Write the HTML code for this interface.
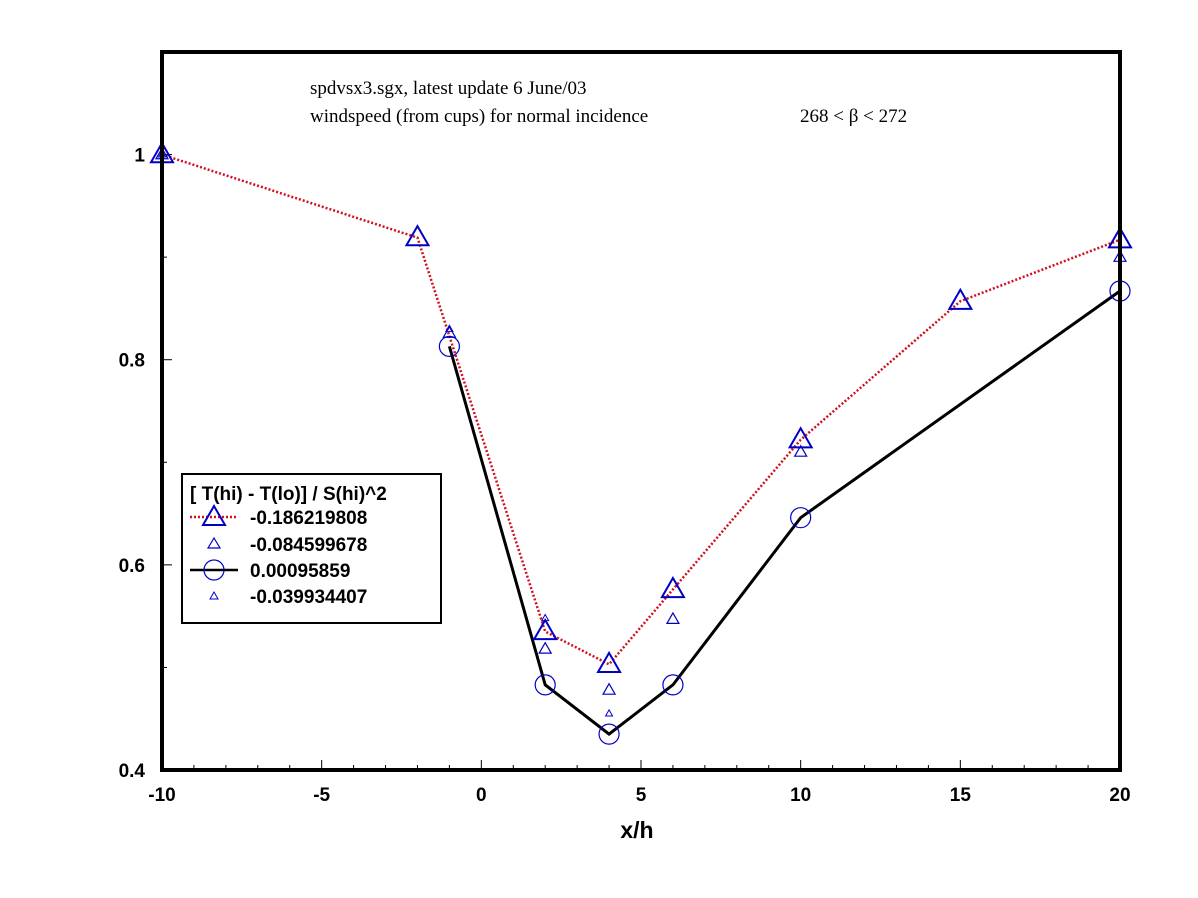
<!DOCTYPE html>
<html><head><meta charset="utf-8"><style>
body{margin:0;background:#fff}
</style></head><body>
<svg id="chart" width="1198" height="898" viewBox="0 0 1198 898" xmlns="http://www.w3.org/2000/svg" style="position:absolute;left:0;top:0">
<g id="plot" font-family="Liberation Sans,Arial,sans-serif"></g>
</svg>
<script>
const xTicks=[-10,-5,0,5,10,15,20];
const yTicks=[0.4,0.6,0.8,1];
const yTickLabels=["0.4","0.6","0.8","1"];
const s1x=[-10,-2,2,4,6,10,15,20];
const s1y=[1.0,0.919,0.535,0.503,0.576,0.722,0.857,0.917];
const s2x=[-10,-1,2,4,6,10,20];
const s2y=[1.0,0.826,0.518,0.478,0.547,0.71,0.9];
const s3x=[-1,2,4,6,10,20];
const s3y=[0.813,0.483,0.435,0.483,0.646,0.867];
const s4x=[-10,-1,2,4];
const s4y=[1.0,0.83,0.548,0.455];
const L=162,R=1120,T=52,B=770;
const X=v=>L+(v+10)*(R-L)/30;
const Y=v=>B-(v-0.4)*(B-T)/0.7;
const NS="http://www.w3.org/2000/svg";
const g=document.getElementById('plot');
function el(t,a,parent){const e=document.createElementNS(NS,t);for(const k in a)e.setAttribute(k,a[k]);(parent||g).appendChild(e);return e;}
function tri(cx,cy,s,w,name){const h=s*0.87;const e=el('polygon',{points:`${cx},${cy-h*0.6} ${cx-s/2},${cy+h*0.4} ${cx+s/2},${cy+h*0.4}`,fill:'none',stroke:'#0000c8','stroke-width':w});

return e;}
for(let v=-10;v<=20;v++){const big=v%5===0;const t=el('line',{x1:X(v),x2:X(v),y1:B,y2:B-(big?10:5),stroke:'#000','stroke-width':1});

}
xTicks.forEach(v=>{const t=el('text',{x:X(v),y:801,'text-anchor':'middle','font-size':19,'font-weight':'bold'});t.textContent=v;

});
for(let i=0;i<=7;i++){const v=0.4+i*0.1;const big=i%2===0;const t=el('line',{x1:L,x2:L+(big?10:5),y1:Y(v),y2:Y(v),stroke:'#000','stroke-width':1});

}
yTicks.forEach((v,i)=>{const t=el('text',{x:145,y:Y(v)+7,'text-anchor':'end','font-size':19,'font-weight':'bold'});t.textContent=yTickLabels[i];

});
const l1=el('polyline',{points:s1x.map((x,i)=>X(x)+','+Y(s1y[i])).join(' '),fill:'none',stroke:'#d01020','stroke-width':2.5,'stroke-dasharray':'2 2'});


const l3=el('polyline',{points:s3x.map((x,i)=>X(x)+','+Y(s3y[i])).join(' '),fill:'none',stroke:'#000','stroke-width':3});


s1x.forEach((x,i)=>tri(X(x),Y(s1y[i]),22,2,'series-1-marker'));
s2x.forEach((x,i)=>tri(X(x),Y(s2y[i]),12,1.2,'series-2-marker'));
s3x.forEach((x,i)=>{const c=el('circle',{cx:X(x),cy:Y(s3y[i]),r:10,fill:'none',stroke:'#0000c8','stroke-width':1.2});

});
s4x.forEach((x,i)=>tri(X(x),Y(s4y[i]),7,1,'series-4-marker'));
const f=el('rect',{x:L,y:T,width:R-L,height:B-T,fill:'none',stroke:'#000','stroke-width':4});


</script>
<svg style="position:absolute;left:0;top:0" width="1198" height="898">
<text x="310" y="94" font-family="Liberation Serif,serif" font-size="19">spdvsx3.sgx, latest update 6 June/03</text>
<text x="310" y="122" font-family="Liberation Serif,serif" font-size="19">windspeed (from cups) for normal incidence</text>
<text x="800" y="122" font-family="Liberation Serif,serif" font-size="19">268 &lt; β &lt; 272</text>
<text x="637" y="838" text-anchor="middle" font-family="Liberation Sans,sans-serif" font-size="23" font-weight="bold">x/h</text>
<g font-family="Liberation Sans,sans-serif" font-size="19" font-weight="bold">
<rect x="182" y="474" width="259" height="149" fill="#fff" stroke="#000" stroke-width="2"/>
<text x="190" y="500">[ T(hi) - T(lo)] / S(hi)^2</text>
<line x1="190" y1="517" x2="238" y2="517" stroke="#d01020" stroke-width="2.5" stroke-dasharray="2 2"/>
<polygon points="214,506 203,525 225,525" fill="none" stroke="#0000c8" stroke-width="2"/>
<text x="250" y="524">-0.186219808</text>
<polygon points="214,538 208,548 220,548" fill="none" stroke="#0000c8" stroke-width="1.2"/>
<text x="250" y="551">-0.084599678</text>
<line x1="190" y1="570" x2="238" y2="570" stroke="#000" stroke-width="2.5"/>
<circle cx="214" cy="570" r="10" fill="none" stroke="#0000c8" stroke-width="1.2"/>
<text x="250" y="577">0.00095859</text>
<polygon points="214,592 210,599 218,599" fill="none" stroke="#0000c8" stroke-width="1"/>
<text x="250" y="603">-0.039934407</text>
</g>
</svg>
</body></html>
